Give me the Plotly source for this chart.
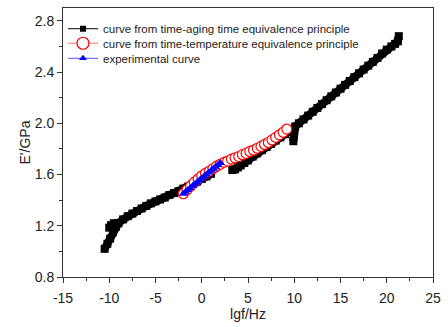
import plotly.graph_objects as go

# Storage modulus master curves: E' (GPa) versus log frequency lgf (Hz)

# curve from time-aging time equivalence principle (segments split by None)
aging_x = [-10.5, -10.2, -9.9, -9.6, -9.3, -9.0, -8.5, -8.0, -7.5, -7.0, -6.5,
           -6.0, -5.5, -5.0, -4.5, -4.0, -3.5, -3.0, -2.5, -2.0, -1.5, -1.0, -0.5,
           0.0, 0.5, 1.0, None,
           -10.0, -9.8, -9.5, None,
           3.3, 3.6, 3.9, 4.2, 4.6, 5.0, 5.5, 6.0, 6.5, 7.0, 7.5, 8.0, 8.5, 9.0, 9.4, None,
           9.9, 9.95, 10.0, 10.1, 10.5, 11.0, 11.5, 12.0, 12.5, 13.0, 13.5, 14.0, 14.5,
           15.0, 15.5, 16.0, 16.5, 17.0, 17.5, 18.0, 18.5, 19.0, 19.5, 20.0, 20.5,
           20.9, 21.2, 21.3]
aging_y = [1.02, 1.06, 1.10, 1.15, 1.19, 1.22, 1.25, 1.275, 1.295, 1.315, 1.335,
           1.355, 1.375, 1.39, 1.405, 1.42, 1.44, 1.455, 1.47, 1.49, 1.505, 1.525, 1.545,
           1.565, 1.585, 1.605, None,
           1.185, 1.205, 1.22, None,
           1.635, 1.64, 1.655, 1.67, 1.69, 1.71, 1.74, 1.765, 1.79, 1.815, 1.84, 1.865,
           1.89, 1.915, 1.935, None,
           1.86, 1.90, 1.94, 1.975, 2.0, 2.03, 2.06, 2.09, 2.12, 2.15, 2.18, 2.21, 2.24,
           2.27, 2.30, 2.33, 2.36, 2.39, 2.42, 2.45, 2.48, 2.51, 2.545, 2.575, 2.60,
           2.62, 2.64, 2.68]

# curve from time-temperature equivalence principle
temp_x = [-2.0, -1.6, -1.2, -0.8, -0.4, 0.0, 0.4, 0.8, 1.2, 1.6, 2.0, 2.4, 2.8, 3.2,
          3.6, 4.0, 4.4, 4.8, 5.2, 5.6, 6.0, 6.4, 6.8, 7.2, 7.6, 8.0, 8.4, 8.8, 9.2]
temp_y = [1.45, 1.48, 1.51, 1.54, 1.565, 1.59, 1.61, 1.625, 1.645, 1.665, 1.68, 1.695,
          1.705, 1.72, 1.73, 1.74, 1.755, 1.765, 1.78, 1.79, 1.805, 1.82, 1.835, 1.85,
          1.87, 1.89, 1.91, 1.93, 1.955]

# experimental curve
exp_x = [-2.0, -1.75, -1.5, -1.25, -1.0, -0.75, -0.5, -0.25, 0.0, 0.25, 0.5, 0.75,
         1.0, 1.25, 1.5, 1.75, 2.0]
exp_y = [1.45, 1.465, 1.48, 1.495, 1.51, 1.525, 1.54, 1.555, 1.57, 1.585, 1.60, 1.615,
         1.63, 1.645, 1.66, 1.675, 1.69]

x_ticks = [-15, -10, -5, 0, 5, 10, 15, 20, 25]
y_ticks = [0.8, 1.2, 1.6, 2.0, 2.4, 2.8]

labels = ["curve from time-aging time equivalence principle",
          "curve from time-temperature equivalence principle",
          "experimental curve"]

FONT = "Liberation Sans, Arial, sans-serif"
RED_LINE = "#ff7070"
BLUE_LINE = "#5050ff"

fig = go.Figure()

# thick band of densely packed square markers
fig.add_trace(go.Scatter(
    x=aging_x, y=aging_y, mode="lines+markers", showlegend=False,
    line=dict(color="black", width=8),
    marker=dict(symbol="square", size=8, color="black"),
))
fig.add_trace(go.Scatter(
    x=temp_x, y=temp_y, mode="lines+markers", showlegend=False,
    line=dict(color=RED_LINE, width=1),
    marker=dict(symbol="circle", size=10, color="white",
                line=dict(color="red", width=1.2)),
))
fig.add_trace(go.Scatter(
    x=exp_x, y=exp_y, mode="lines+markers", showlegend=False,
    line=dict(color=BLUE_LINE, width=1),
    marker=dict(symbol="triangle-up", size=8, color="blue"),
))

# one legend per entry so the rows can sit closer together
fig.add_trace(go.Scatter(
    x=[None], y=[None], mode="lines+markers", name=labels[0], legend="legend",
    line=dict(color="black", width=1),
    marker=dict(symbol="square", size=6, color="black"),
))
fig.add_trace(go.Scatter(
    x=[None], y=[None], mode="lines+markers", name=labels[1], legend="legend2",
    line=dict(color=RED_LINE, width=1),
    marker=dict(symbol="circle", size=12, color="white",
                line=dict(color="red", width=1.2)),
))
fig.add_trace(go.Scatter(
    x=[None], y=[None], mode="lines+markers", name=labels[2], legend="legend3",
    line=dict(color=BLUE_LINE, width=1),
    marker=dict(symbol="triangle-up", size=7, color="blue"),
))

axis_common = dict(
    showgrid=False, zeroline=False, showline=True, linecolor="#333",
    linewidth=1, mirror=True, ticks="outside", ticklen=5, tickwidth=1,
    tickcolor="#333", tickfont=dict(family=FONT, size=14, color="#222"),
)

fig.update_xaxes(
    range=[-15, 25], tickvals=x_ticks, ticktext=[str(v) for v in x_ticks],
    minor=dict(dtick=2.5, ticks="outside", ticklen=3, tickcolor="#333"),
    ticklabelstandoff=3,
    title=dict(text="lgf/Hz", font=dict(family=FONT, size=14, color="#222"),
               standoff=4),
    **axis_common,
)
fig.update_yaxes(
    range=[0.8, 2.9], tickvals=y_ticks, ticktext=[f"{v:.1f}" for v in y_ticks],
    minor=dict(dtick=0.2, tick0=0.8, ticks="outside", ticklen=3, tickcolor="#333"),
    title=dict(text="E'/GPa", font=dict(family=FONT, size=14, color="#222"),
               standoff=0),
    **axis_common,
)

legend_style = dict(x=0.0, xanchor="left", yanchor="middle",
                    bgcolor="rgba(0,0,0,0)", borderwidth=0,
                    font=dict(family=FONT, size=11.5, color="#222"))

fig.update_layout(
    width=448, height=327,
    margin=dict(l=63, r=7, t=8, b=41),
    paper_bgcolor="white", plot_bgcolor="white",
    legend=dict(y=0.923, **legend_style),
    legend2=dict(y=0.869, **legend_style),
    legend3=dict(y=0.813, **legend_style),
)

fig.write_html("out.html")
